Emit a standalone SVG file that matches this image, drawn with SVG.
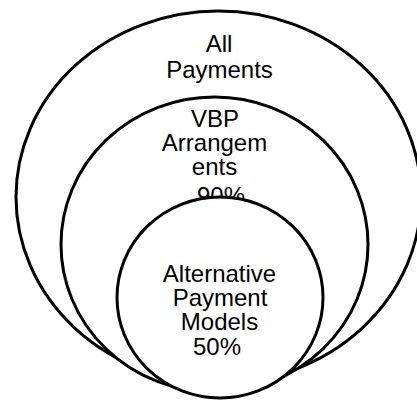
<svg xmlns="http://www.w3.org/2000/svg" width="417" height="401" viewBox="0 0 417 401">
  <style>
    .ring { fill: #ffffff; stroke: #000000; stroke-width: 3; }
    .lbl { font-family: "Liberation Sans", Arial, sans-serif; font-size: 24px; fill: #000000; text-anchor: middle; }
  </style>
  <rect x="0" y="0" width="417" height="401" fill="#ffffff"/>
  <g id="all-payments">
    <ellipse class="ring" cx="218.5" cy="197" rx="202.5" ry="186"/>
    <text class="lbl" x="219" y="52">All</text>
    <text class="lbl" x="219.5" y="78">Payments</text>
  </g>
  <g id="vbp-arrangements">
    <ellipse class="ring" cx="214.5" cy="244.5" rx="153.5" ry="147.5"/>
    <text class="lbl" x="215" y="126.5">VBP</text>
    <text class="lbl" x="214.5" y="150.5">Arrangem</text>
    <text class="lbl" x="214.5" y="175">ents</text>
    <text class="lbl" x="221" y="204">90%</text>
  </g>
  <g id="alternative-payment-models">
    <ellipse class="ring" cx="220" cy="297.5" rx="103" ry="100.5"/>
    <text class="lbl" x="219.5" y="282">Alternative</text>
    <text class="lbl" x="220" y="306">Payment</text>
    <text class="lbl" x="219.5" y="330">Models</text>
    <text class="lbl" x="217" y="355">50%</text>
  </g>
  <g id="connectors"/>
</svg>
